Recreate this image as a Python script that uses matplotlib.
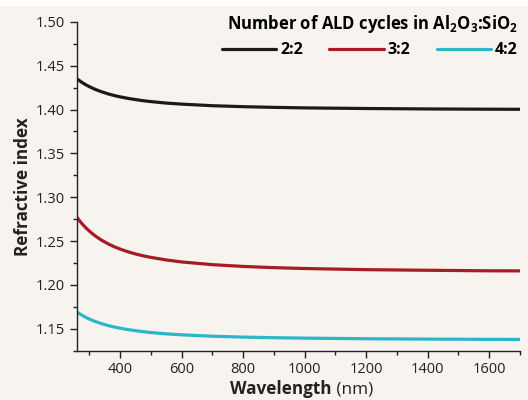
import matplotlib
matplotlib.use("Agg")
import matplotlib.pyplot as plt
from matplotlib.patches import Rectangle
from matplotlib.ticker import MultipleLocator, FormatStrFormatter

plt.rcParams['font.family'] = ['Open Sans', 'DejaVu Sans']
plt.rcParams['mathtext.fontset'] = 'custom'
plt.rcParams['mathtext.rm'] = 'Open Sans'
plt.rcParams['mathtext.bf'] = 'Open Sans:bold'

# wavelength grid (nm)
wavelength = [260, 275, 290, 305, 320, 340, 360, 380, 400, 425, 450, 475, 500, 550,
              600, 700, 800, 900, 1000, 1200, 1400, 1600, 1700]

# refractive index for each Al2O3:SiO2 cycle ratio
n_22 = [1.4350, 1.4312, 1.4280, 1.4253, 1.4229, 1.4203, 1.4180, 1.4161, 1.4145, 1.4128,
        1.4114, 1.4101, 1.4091, 1.4074, 1.4062, 1.4044, 1.4033, 1.4025, 1.4019, 1.4012,
        1.4007, 1.4004, 1.4003]
n_32 = [1.2770, 1.2703, 1.2647, 1.2599, 1.2557, 1.2510, 1.2471, 1.2437, 1.2409, 1.2379,
        1.2353, 1.2332, 1.2314, 1.2285, 1.2262, 1.2231, 1.2211, 1.2197, 1.2187, 1.2174,
        1.2167, 1.2161, 1.2160]
n_42 = [1.1690, 1.1657, 1.1628, 1.1603, 1.1582, 1.1558, 1.1538, 1.1521, 1.1506, 1.1491,
        1.1478, 1.1467, 1.1457, 1.1442, 1.1431, 1.1415, 1.1405, 1.1398, 1.1393, 1.1386,
        1.1382, 1.1379, 1.1378]

labels = ["2:2", "3:2", "4:2"]
colors = ["#1a1a1a", "#a51c24", "#2db6c8"]

bg = "#f7f3ef"
ink = "#222222"
fig = plt.figure(figsize=(5.28, 4.0), dpi=100, facecolor=bg)
fig.patches.append(Rectangle((0, 0.985), 1, 0.015, transform=fig.transFigure,
                             facecolor="white", edgecolor="none", zorder=-1))
ax = fig.add_axes([0.1458, 0.1233, 0.839, 0.822])
ax.set_facecolor(bg)

for series, lab, col in zip([n_22, n_32, n_42], labels, colors):
    ax.plot(wavelength, series, color=col, lw=2.3, label=lab, solid_capstyle="round")

ax.set_xlim(260, 1700)
ax.set_ylim(1.125, 1.50)
ax.xaxis.set_major_locator(MultipleLocator(200))
ax.xaxis.set_minor_locator(MultipleLocator(100))
ax.yaxis.set_major_locator(MultipleLocator(0.05))
ax.yaxis.set_minor_locator(MultipleLocator(0.025))
ax.yaxis.set_major_formatter(FormatStrFormatter("%.2f"))

for s in ["top", "right"]:
    ax.spines[s].set_visible(False)
for s in ["left", "bottom"]:
    ax.spines[s].set_color(ink)
    ax.spines[s].set_linewidth(1.0)
ax.tick_params(which="major", length=5, width=1.0, color=ink, labelsize=10.5, labelcolor=ink)
ax.tick_params(which="minor", length=3, width=1.0, color=ink)

ax.set_ylabel("Refractive index", fontsize=12.3, fontweight="bold", color=ink, labelpad=3)
# x label: bold word + regular unit
ax.text(0.575, -0.118, "Wavelength", transform=ax.transAxes, ha="right", va="center",
        fontsize=12.3, fontweight="bold", color=ink)
ax.text(0.575, -0.118, " (nm)", transform=ax.transAxes, ha="left", va="center",
        fontsize=12.3, color=ink)

leg = ax.legend(ncol=3, loc="upper right", bbox_to_anchor=(1.02, 1.061), frameon=False,
                title=r"Number of ALD cycles in Al$_\mathbf{2}$O$_\mathbf{3}$:SiO$_\mathbf{2}$",
                title_fontproperties={"weight": "bold", "size": 12},
                prop={"weight": "bold", "size": 11.5},
                handlelength=3.4, handletextpad=0.25, columnspacing=1.65, borderpad=0.2,
                labelspacing=0.45)
leg._legend_box.align = "right"

fig.savefig("out.png", dpi=100, facecolor=bg)
